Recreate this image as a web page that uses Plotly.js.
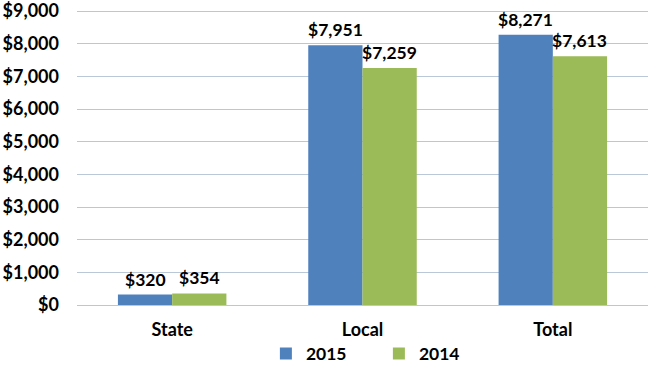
<!DOCTYPE html>
<html>
<head>
<meta charset="utf-8">
<script src="https://cdn.plot.ly/plotly-3.0.1.min.js"></script>
<style>html,body{margin:0;padding:0;background:#fff;}#chart{width:653px;height:370px;}</style>
</head>
<body>
<div id="chart"></div>
<script>
const categories = ["State", "Local", "Total"];
const values2015 = [320, 7951, 8271];
const values2014 = [354, 7259, 7613];
const seriesNames = ["2015", "2014"];
const yTickVals = [0, 1000, 2000, 3000, 4000, 5000, 6000, 7000, 8000, 9000];
const yTickText = ["$0", "$1,000", "$2,000", "$3,000", "$4,000", "$5,000", "$6,000", "$7,000", "$8,000", "$9,000"];

const fontFamily = "Lato, 'Open Sans', sans-serif";
const labelFont = {family: fontFamily, size: 17.5, color: "#000", weight: "bold"};
const colors = ["#4F81BD", "#9BBB59"];
const W = 653, H = 370;
const margin = {l: 77, r: 5, t: 10, b: 65, autoexpand: false};
const bargap = 0.43;

function fmt(v) { return "$" + v.toLocaleString("en-US"); }

const seriesValues = [values2015, values2014];
const traces = seriesValues.map((vals, i) => ({
  type: "bar", name: seriesNames[i], x: categories, y: vals,
  marker: {color: colors[i]}, hoverinfo: "none"
}));

const plotW = W - margin.l - margin.r;
const barPx = plotW / categories.length * (1 - bargap) / seriesValues.length;
const annotations = [];
seriesValues.forEach((vals, i) => {
  vals.forEach((v, j) => {
    annotations.push({
      x: categories[j], y: v, xref: "x", yref: "y",
      text: fmt(v), showarrow: false, yanchor: "bottom",
      xshift: (i - 0.5) * barPx, yshift: 3,
      font: labelFont
    });
  });
});

const layout = {
  width: W, height: H, margin: margin,
  paper_bgcolor: "#fff", plot_bgcolor: "#fff",
  barmode: "group", bargap: bargap, bargroupgap: 0,
  font: {family: fontFamily, color: "#000"},
  showlegend: true,
  annotations: annotations,
  legend: {
    orientation: "h", x: 0.3308, xanchor: "left", y: -0.165, yanchor: "middle",
    bgcolor: "rgba(0,0,0,0)",
    font: {family: fontFamily, size: 17.5, color: "#000", weight: "bold"},
    traceorder: "normal", itemwidth: 30,
    entrywidth: 68, entrywidthmode: "pixels"
  },
  xaxis: {
    type: "category", showgrid: false, zeroline: false, showline: false,
    ticks: "", tickfont: {family: fontFamily, size: 18, color: "#000", weight: "bold"},
    ticklabelstandoff: 12
  },
  yaxis: {
    range: [0, 9031], tickmode: "array", tickvals: yTickVals, ticktext: yTickText,
    showgrid: true, gridcolor: "#B9C7D9", gridwidth: 1,
    zeroline: true, zerolinecolor: "#B9C7D9", zerolinewidth: 1,
    showline: false, ticks: "", ticklabeloverflow: "allow",
    tickfont: {family: fontFamily, size: 18, color: "#000", weight: "bold"},
    ticklabelstandoff: 17
  }
};

Plotly.newPlot("chart", traces, layout, {staticPlot: true, displayModeBar: false});
</script>
</body>
</html>
